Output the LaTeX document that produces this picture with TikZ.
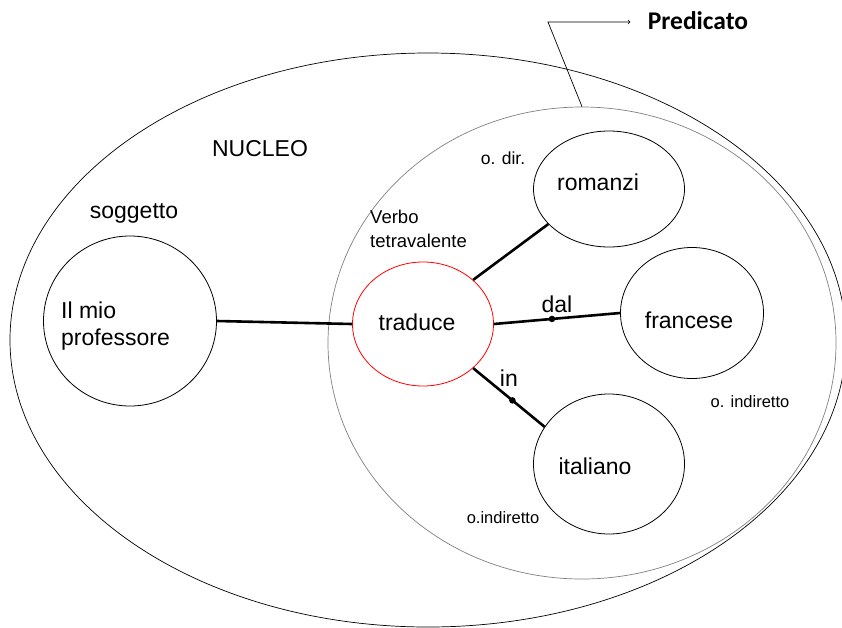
\documentclass[tikz,border=0pt]{standalone}
\usepackage{fontspec}
\setmainfont{Liberation Sans}
\newfontfamily\calfont{Carlito}
\usetikzlibrary{shapes.geometric}
\usetikzlibrary{positioning}

\begin{document}
\begin{tikzpicture}[x=1pt, y=-1pt,
    bubble/.style={draw, ellipse, inner sep=0pt, line width=0.8pt},
    link/.style={line width=2.6pt},
    big/.style={font=\fontsize{23}{27}\selectfont},
    mid/.style={font=\fontsize{18.5}{23.5}\selectfont},
    tiny/.style={font=\fontsize{16.5}{18}\selectfont},
    dot/.style={circle, fill, inner sep=0pt, minimum size=6.5pt}]
    \useasboundingbox (0,0) rectangle (842,627);

    \node[draw, ellipse, inner sep=0pt, line width=0.7pt, minimum width=836pt, minimum height=574pt] (nucleo) at (428,340) {};
    \node[draw=gray, ellipse, inner sep=0pt, line width=0.7pt, minimum width=508pt, minimum height=472pt] (pred) at (582,343) {};

    \node[big] (nuc) at (260,149) {NUCLEO};
    \node[big] (sogg) at (134,213) {soggetto};
    \node[bubble, minimum width=173pt, minimum height=170pt] (prof) at (130,321) {};
    \node[big, align=left, anchor=west, inner sep=0pt] (profTxt) at (61,326) {Il mio\\professore};

    \node[bubble, draw=red, minimum width=141pt, minimum height=124pt] (traduce) at (423,324) {};
    \node[big] (tradTxt) at (417,322) {traduce};
    \node[mid, align=left, anchor=west, inner sep=0pt] (verbo) at (370,229) {Verbo\\tetravalente};

    \node[bubble, minimum width=151pt, minimum height=116pt] (romanzi) at (609,189) {};
    \node[big] (romTxt) at (598,182) {romanzi};
    \node[bubble, minimum width=143pt, minimum height=131pt] (francese) at (692,313) {};
    \node[big] (franTxt) at (689,320) {francese};
    \node[bubble, minimum width=151pt, minimum height=140pt] (italiano) at (609,464) {};
    \node[big] (itaTxt) at (595,466) {italiano};

    \node[font=\fontsize{17.5}{20}\selectfont] (odir) at (503,158) {o. dir.};
    \node[tiny] (oind1) at (750,402) {o. indiretto};
    \node[tiny] (oind2) at (503,518) {o.indiretto};

    \draw[link] (prof.east) -- (traduce.west);
    \draw[link] (traduce.north east) -- (romanzi.210);
    \draw[link] (traduce.east) -- (francese.west)
        node[pos=0.46, dot] {} node[pos=0.5, above=1pt, big] {dal};
    \draw[link] (traduce.south east) -- (italiano.150)
        node[pos=0.55, dot] {} node[pos=0.5, above=6pt, big] {in};

    % freccia del predicato
    \node[font=\calfont\bfseries\fontsize{25.5}{28}\selectfont] (predicato) at (698,21) {Predicato};
    \coordinate (bend) at (548,22);
    \draw[->, line width=0.7pt, shorten >=14pt] (pred.north) -- (bend) -- (bend -| predicato.west);
\end{tikzpicture}
\end{document}
